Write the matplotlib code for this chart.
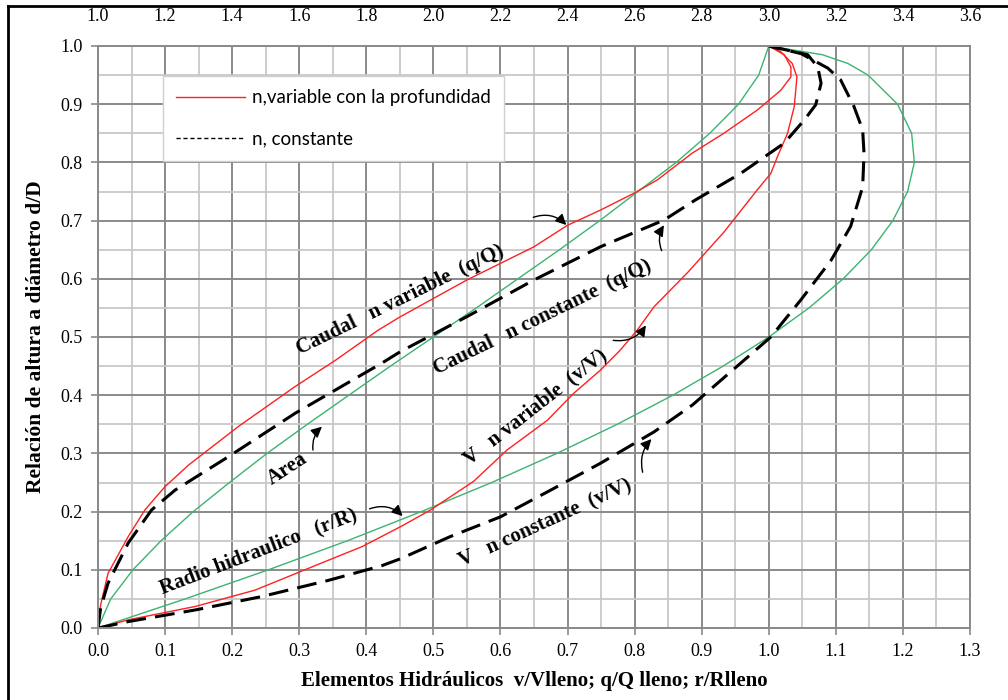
import numpy as np
import matplotlib.pyplot as plt
from matplotlib.lines import Line2D
from matplotlib.ticker import MultipleLocator, FormatStrFormatter

# ---------- data (x = hydraulic element, y = d/D) ----------
area_y = [0, .05, .10, .15, .20, .25, .30, .35, .40, .45, .50, .55, .60, .65, .70, .75, .80, .85, .90, .95, 1.0]
area_x = [0, .019, .052, .094, .142, .196, .252, .312, .374, .436, .500, .564, .626, .688, .748, .805, .862, .912, .955, .985, 1.0]

radio_y = [0, .05, .10, .15, .20, .25, .30, .35, .40, .45, .50, .55, .60, .65, .70, .75, .80, .85, .90, .95, .97, .985, 1.0]
radio_x = [0, .130, .254, .372, .482, .587, .684, .774, .857, .932, 1.0, 1.060, 1.111, 1.153, 1.185, 1.207, 1.217, 1.213, 1.192, 1.148, 1.118, 1.080, 1.0]

q_var_x = [0, .004, .015, .045, .070, .100, .135, .209, .294, .354, .418, .451, .550, .650, .700, .749, .799, .834, .886, .933, .983, 1.018, 1.033, 1.033, 1.023, 1.0]
q_var_y = [0, .040, .094, .157, .203, .243, .280, .346, .415, .460, .512, .535, .598, .655, .692, .718, .747, .770, .816, .850, .890, .924, .947, .964, .985, 1.0]

q_con_x = [0, .004, .015, .045, .080, .115, .194, .294, .423, .451, .550, .650, .749, .844, .890, .958, 1.023, 1.053, 1.070, 1.078, 1.073, 1.058, 1.0]
q_con_y = [0, .035, .077, .146, .203, .237, .294, .369, .455, .475, .535, .598, .655, .701, .735, .781, .833, .873, .899, .936, .964, .985, 1.0]

v_var_x = [0, .045, .145, .234, .319, .394, .451, .496, .560, .610, .670, .709, .749, .779, .804, .829, .880, .933, .983, 1.003, 1.013, 1.028, 1.038, 1.042, 1.035, 1.018, 1.0]
v_var_y = [0, .014, .037, .065, .105, .140, .174, .203, .252, .306, .357, .403, .443, .478, .512, .552, .612, .680, .753, .781, .810, .850, .896, .947, .970, .990, 1.0]

v_con_x = [0, .045, .145, .244, .344, .423, .451, .525, .600, .675, .749, .829, .886, .903, .958, 1.003, 1.048, 1.093, 1.122, 1.140, 1.142, 1.140, 1.127, 1.107, 1.088, 1.048, 1.0]
v_con_y = [0, .011, .031, .054, .082, .107, .119, .157, .191, .237, .283, .337, .383, .400, .455, .500, .564, .632, .690, .758, .815, .856, .896, .942, .962, .987, 1.0]

top_ticks = [1.0, 1.2, 1.4, 1.6, 1.8, 2.0, 2.2, 2.4, 2.6, 2.8, 3.0, 3.2, 3.4, 3.6]

RED = '#ff2020'
GREEN = '#3cb371'
plt.rcParams['font.family'] = ['Liberation Serif', 'DejaVu Serif']

fig = plt.figure(figsize=(10.08, 7.0), dpi=100)
ax = fig.add_axes([98/1008, 72/700, 872/1008, 582/700])

# curves
ax.plot(area_x, area_y, color=GREEN, lw=1.0)
ax.plot(radio_x, radio_y, color=GREEN, lw=1.0)
ax.plot(q_var_x, q_var_y, color=RED, lw=1.0)
ax.plot(v_var_x, v_var_y, color=RED, lw=1.0)
ax.plot(q_con_x, q_con_y, color='black', lw=2.2, ls=(0, (6.5, 3)))
ax.plot(v_con_x, v_con_y, color='black', lw=2.2, ls=(0, (6.5, 3)))

# axes, grid
ax.set_xlim(0, 1.3)
ax.set_ylim(0, 1.0)
ax.xaxis.set_major_locator(MultipleLocator(0.1))
ax.xaxis.set_minor_locator(MultipleLocator(0.05))
ax.yaxis.set_major_locator(MultipleLocator(0.1))
ax.yaxis.set_minor_locator(MultipleLocator(0.05))
ax.xaxis.set_major_formatter(FormatStrFormatter('%.1f'))
ax.yaxis.set_major_formatter(FormatStrFormatter('%.1f'))
ax.grid(which='major', color='#8a8a8a', lw=1.4)
ax.grid(which='minor', color='#c8c8c8', lw=1.3)
ax.set_axisbelow(True)
for s in ax.spines.values():
    s.set_color('#8a8a8a')
    s.set_linewidth(1.4)
ax.tick_params(which='major', length=5, width=1.2, color='#8a8a8a', labelsize=13, pad=6)
ax.tick_params(which='minor', length=0)

top = ax.secondary_xaxis('top', functions=(lambda x: 1 + 2 * x, lambda t: (t - 1) / 2))
top.set_xticks(top_ticks)
top.xaxis.set_major_formatter(FormatStrFormatter('%.1f'))
top.tick_params(length=0, labelsize=13, pad=15)
top.spines['top'].set_visible(False)

ax.set_xlabel('Elementos Hidráulicos  v/Vlleno; q/Q lleno; r/Rlleno',
              fontweight='bold', fontsize=15, labelpad=8)
ax.set_ylabel('Relación de altura a diámetro d/D',
              fontweight='bold', fontsize=15.5, labelpad=10)

# legend
handles = [Line2D([], [], color=RED, lw=1.0),
           Line2D([], [], color='black', lw=1.0, ls=(0, (3, 2)))]
leg = ax.legend(handles, ['n,variable con la profundidad', 'n, constante'],
                loc='upper left', bbox_to_anchor=(0.0745, 0.948), borderaxespad=0,
                prop={'family': 'Lato', 'size': 13.5},
                handlelength=3.7, handletextpad=0.35, labelspacing=1.3,
                borderpad=0.7, fancybox=False, framealpha=1, edgecolor='#d0d0d0')
leg.get_frame().set_linewidth(1.0)

# curve labels
lab_kw = dict(fontweight='bold', fontsize=15, ha='center', va='center')
ax.text(0.451, 0.564, 'Caudal   n variable  (q/Q)', rotation=26, **lab_kw)
ax.text(0.663, 0.534, 'Caudal   n constante  (q/Q)', rotation=26, **lab_kw)
ax.text(0.283, 0.273, 'Area', rotation=33, **lab_kw)
ax.text(0.239, 0.131, 'Radio hidraulico   (r/R)', rotation=21, **lab_kw)
ax.text(0.652, 0.380, 'V   n variable  (v/V)', rotation=38, **lab_kw)
ax.text(0.667, 0.180, 'V   n constante  (v/V)', rotation=24.5, **lab_kw)

# pointer arrows
arr = dict(arrowstyle='-|>', color='black', lw=1.0, mutation_scale=16)
ax.annotate('', xy=(0.701, 0.689), xytext=(0.645, 0.704),
            arrowprops=dict(connectionstyle='arc3,rad=-0.35', **arr))
ax.annotate('', xy=(0.846, 0.696), xytext=(0.842, 0.644),
            arrowprops=dict(connectionstyle='arc3,rad=-0.3', **arr))
ax.annotate('', xy=(0.337, 0.349), xytext=(0.321, 0.301),
            arrowprops=dict(connectionstyle='arc3,rad=-0.3', **arr))
ax.annotate('', xy=(0.457, 0.189), xytext=(0.401, 0.203),
            arrowprops=dict(connectionstyle='arc3,rad=-0.35', **arr))
ax.annotate('', xy=(0.819, 0.524), xytext=(0.764, 0.495),
            arrowprops=dict(connectionstyle='arc3,rad=0.35', **arr))
ax.annotate('', xy=(0.828, 0.328), xytext=(0.813, 0.263),
            arrowprops=dict(connectionstyle='arc3,rad=-0.3', **arr))

# outer frame (top and left edges visible in the screenshot)
fig.add_artist(Line2D([8/1008, 1.0], [694/700, 694/700], transform=fig.transFigure, color='black', lw=2))
fig.add_artist(Line2D([8/1008, 8/1008], [0, 694/700], transform=fig.transFigure, color='black', lw=2))

fig.savefig('out.png', dpi=100)
